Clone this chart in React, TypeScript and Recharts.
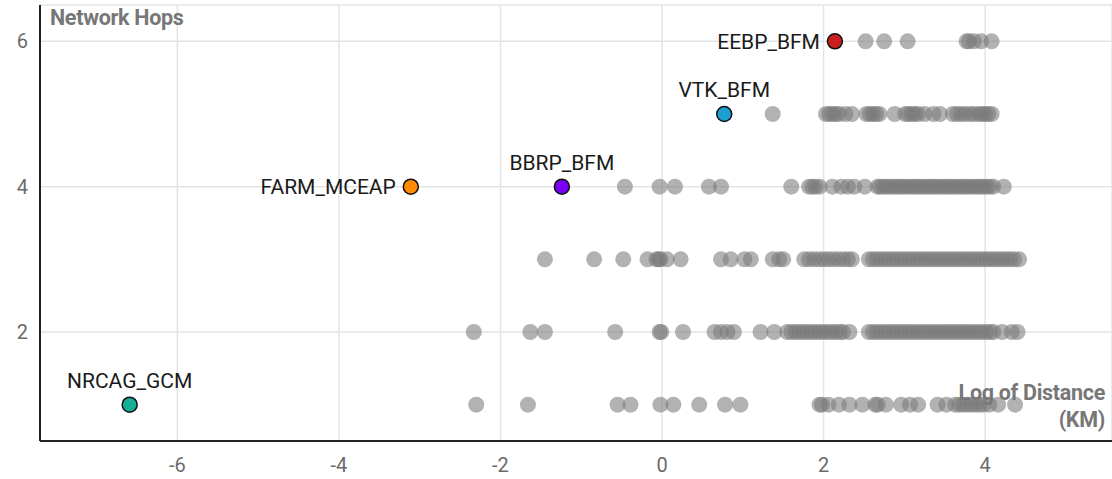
import React from "react";
import {
  ScatterChart,
  Scatter,
  XAxis,
  YAxis,
  CartesianGrid,
} from "recharts";

// log distance values per hop count (gray background points)
const hops6 = [2.52, 2.75, 3.04, 3.77, 3.8, 3.86, 3.95, 4.08];
const hops5 = [
  1.37, 2.03, 2.07, 2.11, 2.15, 2.19, 2.27, 2.35, 2.53, 2.57, 2.61, 2.65, 2.69,
  2.88, 3.01, 3.05, 3.09, 3.13, 3.17, 3.25, 3.36, 3.44, 3.6, 3.65, 3.7, 3.75,
  3.81, 3.86, 3.92, 3.96, 4.0, 4.04, 4.08,
];
const hops4 = [
  -0.46, -0.03, 0.16, 0.58, 0.73, 1.6, 1.82, 1.86, 1.9, 1.95, 2.11, 2.22, 2.3,
  2.38, 2.51, 2.67, 2.7, 2.74, 2.78, 2.82, 2.86, 2.9, 2.94, 2.98, 3.02, 3.06,
  3.1, 3.14, 3.18, 3.22, 3.26, 3.3, 3.34, 3.38, 3.42, 3.46, 3.5, 3.54, 3.58,
  3.62, 3.66, 3.7, 3.74, 3.78, 3.82, 3.86, 3.9, 3.94, 3.98, 4.02, 4.06, 4.1,
  4.23,
];
const hops3 = [
  -1.45, -0.84, -0.48, -0.18, -0.07, -0.04, -0.02, 0.06, 0.23, 0.73, 0.85, 1.02,
  1.1, 1.37, 1.45, 1.5, 1.76, 1.82, 1.88, 1.94, 2.0, 2.06, 2.12, 2.18, 2.24,
  2.3, 2.35, 2.56, 2.61, 2.66, 2.71, 2.76, 2.81, 2.86, 2.91, 2.96, 3.01, 3.06,
  3.11, 3.16, 3.21, 3.26, 3.31, 3.36, 3.41, 3.46, 3.51, 3.56, 3.61, 3.66, 3.71,
  3.76, 3.81, 3.86, 3.91, 3.96, 4.01, 4.06, 4.11, 4.16, 4.21, 4.26, 4.31, 4.36,
  4.42,
];
const hops2 = [
  -2.33, -1.63, -1.45, -0.58, -0.03, -0.01, 0.26, 0.65, 0.73, 0.81, 0.89, 1.22,
  1.39, 1.55, 1.6, 1.65, 1.7, 1.75, 1.8, 1.85, 1.9, 1.95, 2.0, 2.05, 2.1, 2.15,
  2.2, 2.24, 2.32, 2.56, 2.61, 2.66, 2.71, 2.76, 2.81, 2.86, 2.91, 2.96, 3.01,
  3.06, 3.11, 3.16, 3.21, 3.26, 3.31, 3.36, 3.41, 3.46, 3.51, 3.56, 3.61, 3.66,
  3.71, 3.76, 3.81, 3.86, 3.91, 3.96, 4.01, 4.06, 4.1, 4.21, 4.33, 4.4,
];
const hops1 = [
  -2.3, -1.66, -0.55, -0.39, -0.02, 0.14, 0.46, 0.78, 0.97, 1.95, 1.98, 2.06,
  2.19, 2.32, 2.48, 2.64, 2.67, 2.77, 2.96, 3.07, 3.17, 3.41, 3.52, 3.63, 3.68,
  3.73, 3.78, 3.83, 3.88, 3.93, 3.98, 4.05, 4.16, 4.37,
];

// highlighted projects
const hlNames = ["EEBP_BFM", "VTK_BFM", "BBRP_BFM", "FARM_MCEAP", "NRCAG_GCM"];
const hlDistance = [2.14, 0.77, -1.24, -3.11, -6.59];
const hlHops = [6, 5, 4, 4, 1];

const hlColors: Record<string, string> = {
  EEBP_BFM: "#c91f1f",
  VTK_BFM: "#1d9fd2",
  BBRP_BFM: "#7700f4",
  FARM_MCEAP: "#ff8b00",
  NRCAG_GCM: "#16ae97",
};
const labelLeft = new Set(["EEBP_BFM", "FARM_MCEAP"]);

const xTicks = [-6, -4, -2, 0, 2, 4];
const yTicks = [2, 4, 6];

const rows: [number, number[]][] = [
  [1, hops1],
  [2, hops2],
  [3, hops3],
  [4, hops4],
  [5, hops5],
  [6, hops6],
];
const grayData = rows.flatMap(([h, xs]) => xs.map((x) => ({ x, y: h })));
const hlData = hlNames.map((name, i) => ({
  name,
  x: hlDistance[i],
  y: hlHops[i],
}));

const GrayDot = (props: any) => (
  <circle cx={props.cx} cy={props.cy} r={8} fill="#7a7a7a" fillOpacity={0.58} />
);

const HighlightDot = (props: any) => {
  const { cx, cy, payload } = props;
  const name = payload.name;
  const left = labelLeft.has(name);
  return (
    <g>
      <circle
        cx={cx}
        cy={cy}
        r={7.5}
        fill={hlColors[name]}
        stroke="#111"
        strokeWidth={1.5}
      />
      <text
        x={left ? cx - 15 : cx}
        y={left ? cy + 7.5 : cy - 17}
        textAnchor={left ? "end" : "middle"}
        fontSize={21}
        fontFamily="Roboto, sans-serif"
        fill="#1a1a1a"
      >
        {name}
      </text>
    </g>
  );
};

const tickStyle = { fontSize: 20, fill: "#6b6b6b", fontFamily: "Roboto, sans-serif" };

export default function App() {
  return (
    <div
      style={{
        position: "absolute",
        left: 0,
        top: 0,
        width: 1112,
        height: 479,
        background: "#fff",
        fontFamily: "Roboto, sans-serif",
      }}
    >
      <ScatterChart
        width={1112}
        height={479}
        margin={{ top: 5, right: 0, bottom: 0, left: 0 }}
      >
        <CartesianGrid stroke="#e4e4e4" strokeWidth={1.5} />
        <XAxis
          type="number"
          dataKey="x"
          domain={[-7.7, 5.57]}
          ticks={xTicks}
          allowDataOverflow
          height={38}
          tickLine={false}
          tickMargin={11}
          axisLine={{ stroke: "#222", strokeWidth: 2 }}
          tick={tickStyle}
        />
        <YAxis
          type="number"
          dataKey="y"
          domain={[0.5, 6.5]}
          ticks={yTicks}
          allowDataOverflow
          width={40}
          tickLine={false}
          tickMargin={6}
          axisLine={{ stroke: "#222", strokeWidth: 2 }}
          tick={tickStyle}
        />
        <Scatter data={grayData} shape={GrayDot} isAnimationActive={false} />
        <Scatter data={hlData} shape={HighlightDot} isAnimationActive={false} />
      </ScatterChart>
      <div
        style={{
          position: "absolute",
          left: 50,
          top: 5,
          fontSize: 21.5,
          fontWeight: 700,
          color: "#777",
          letterSpacing: -0.3,
        }}
      >
        Network Hops
      </div>
      <div
        style={{
          position: "absolute",
          right: 7,
          top: 379,
          fontSize: 21.5,
          fontWeight: 700,
          color: "#777",
          textAlign: "right",
          lineHeight: "27px",
          letterSpacing: -0.3,
        }}
      >
        Log of Distance
        <br />
        (KM)
      </div>
    </div>
  );
}
